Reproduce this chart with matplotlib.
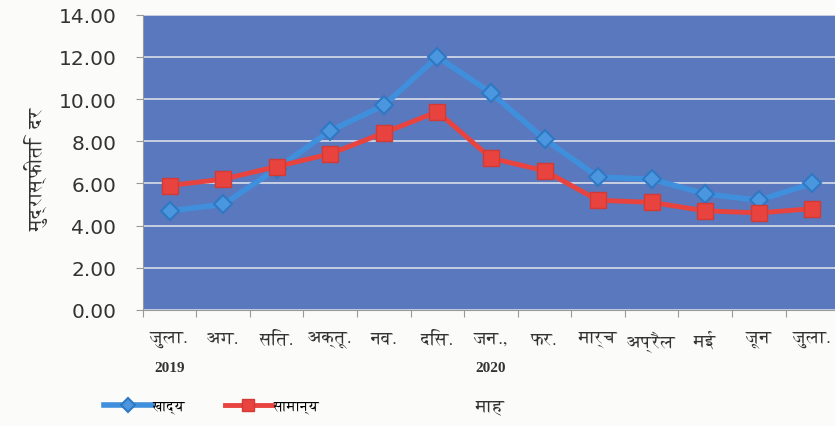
import matplotlib
matplotlib.use('Agg')
import matplotlib.pyplot as plt
from matplotlib import font_manager
from matplotlib.ft2font import FT2Font

months = ['जुला.', 'अग.', 'सित.', 'अक्तू.', 'नव.', 'दिस.', 'जन.,', 'फर.',
          'मार्च', 'अप्रैल', 'मई', 'जून', 'जुला.']
years = {0: '2019', 6: '2020'}
food = [4.7, 5.0, 6.7, 8.5, 9.7, 12.0, 10.3, 8.1, 6.3, 6.2, 5.5, 5.2, 6.0]
general = [5.9, 6.2, 6.8, 7.4, 8.4, 9.4, 7.2, 6.6, 5.2, 5.1, 4.7, 4.6, 4.8]
yticks = [0, 2, 4, 6, 8, 10, 12, 14]


def find_deva_font():
    # look for installed fonts that cover Devanagari, serif ones first
    found = []
    for f in font_manager.fontManager.ttflist:
        try:
            cmap = FT2Font(f.fname).get_charmap()
        except Exception:
            continue
        if 0x0915 in cmap and 0x093F in cmap:
            found.append(f.name)
    if not found:
        return None
    serif = [n for n in found if 'Serif' in n]
    return (serif or found)[0]


deva = find_deva_font()
fam = [deva, 'DejaVu Sans'] if deva else ['DejaVu Sans']

fig = plt.figure(figsize=(8.35, 4.27), dpi=100)
ax = fig.add_axes([0.171, 0.272, 0.834, 0.691])
ax.set_facecolor('#5a78bd')
fig.patch.set_facecolor('#fbfbfa')

x = list(range(len(months)))
ax.plot(x, food, color='#3f8fdc', lw=4, marker='D', ms=9,
        mfc='#4a96df', mec='#2f78c4', mew=1.5, label='खाद्य', zorder=3)
ax.plot(x, general, color='#e8433e', lw=3.5, marker='s', ms=11,
        mfc='#e8433e', mec='#d23a36', label='सामान्य', zorder=3)

ax.set_xlim(-0.5, len(months) - 0.5)
ax.set_ylim(0, 14)
ax.set_yticks(yticks)
ax.set_yticklabels([f'{v:.2f}' for v in yticks], fontsize=14.5, color='#333333')
ax.yaxis.grid(True, color='#d9dde8', lw=1.2)
ax.set_axisbelow(True)

ax.set_xticks([i - 0.5 for i in range(len(months) + 1)])
ax.set_xticklabels([])
ax.set_xticks(x, minor=True)
ax.set_xticklabels(months, minor=True, fontsize=13, family=fam, color='#333333')
ax.tick_params(axis='x', which='minor', length=0, pad=15)
ax.tick_params(axis='x', which='major', length=5, color='#999999')
ax.tick_params(axis='y', length=5, color='#999999', pad=14)

for s in ['top', 'right']:
    ax.spines[s].set_visible(False)
ax.spines['left'].set_color('#999999')
ax.spines['bottom'].set_color('#999999')

for i, yr in years.items():
    ax.text(i, -2.45, yr, ha='center', va='top', fontsize=11,
            fontweight='bold', family='Liberation Serif', color='#333333')

ax.set_ylabel('मुद्रास्फीति  दर', fontsize=14, family=fam, labelpad=12,
              color='#333333')
ax.yaxis.set_label_coords(-0.135, 0.48)
fig.text(0.587, 0.045, 'माह', ha='center', va='center', fontsize=13,
         family=fam, color='#333333')

leg = fig.legend(loc='lower left', bbox_to_anchor=(0.11, 0.0), ncol=2,
                 frameon=False, prop={'family': fam, 'size': 10},
                 handlelength=3.4, columnspacing=2.8, handletextpad=0.1,
                 markerscale=0.75)

fig.savefig('out.png', dpi=100, facecolor=fig.get_facecolor())
